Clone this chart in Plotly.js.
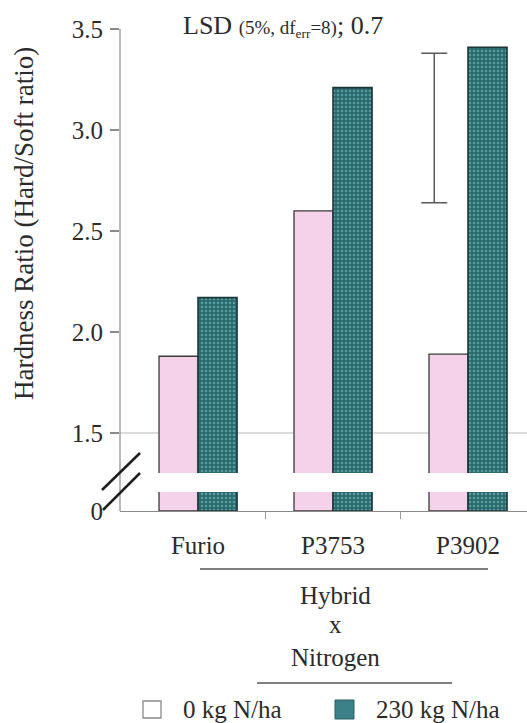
<!DOCTYPE html>
<html>
<head>
<meta charset="utf-8">
<script src="https://cdn.plot.ly/plotly-3.0.1.min.js"></script>
<style>html,body{margin:0;padding:0;background:#fff;}#chart{width:527px;height:723px;}</style>
</head>
<body>
<div id="chart"></div>
<script>
// ---- data ----
var hybrids = ['Furio', 'P3753', 'P3902'];
var n0Values = [1.88, 2.60, 1.89];     // 0 kg N/ha
var n230Values = [2.17, 3.21, 3.41];   // 230 kg N/ha
var seriesNames = ['0 kg N/ha', '230 kg N/ha'];
var yTickVals = [1.5, 2.0, 2.5, 3.0, 3.5];
var yTickText = ['1.5', '2.0', '2.5', '3.0', '3.5'];
var lsdPos = [1.75];      // position between P3753 and P3902 bars
var lsdLow = [2.64];
var lsdHigh = [3.38];
var lsdLabel = 'LSD <span style="font-size:19px">(5%, df<sub>err</sub>=8)</span>; 0.7';
var xTitleLines = ['Hybrid', 'x', 'Nitrogen'];
var yTitle = 'Hardness Ratio (Hard/Soft ratio)';

// ---- styles ----
var serif = 'Liberation Serif';
var txt = '#2b2b2b';
var pink = '#f6d1ea';
var tealBg = '#2b6b6e';
var tealFg = '#5a9ca4';
var xRange = [-0.578, 2.437];

function pinkTrace(ya) {
  return {type: 'bar', x: hybrids, y: n0Values, name: seriesNames[0], xaxis: 'x', yaxis: ya,
    marker: {color: pink, line: {color: '#3a3a3a', width: 1.3}}, showlegend: false, hoverinfo: 'skip'};
}
function tealTrace(ya) {
  return {type: 'bar', x: hybrids, y: n230Values, name: seriesNames[1], xaxis: 'x', yaxis: ya,
    marker: {color: tealBg, line: {color: '#1b3536', width: 1.6},
      pattern: {shape: '.', bgcolor: tealBg, fgcolor: tealFg, size: 4, solidity: 0.3, fillmode: 'replace'}},
    showlegend: false, hoverinfo: 'skip'};
}

var lsdCenter = lsdPos.map(function(_, i){ return (lsdLow[i] + lsdHigh[i]) / 2; });
var lsdHalf = lsdPos.map(function(_, i){ return (lsdHigh[i] - lsdLow[i]) / 2; });

var traces = [
  pinkTrace('y'), tealTrace('y'),
  pinkTrace('y2'), tealTrace('y2'),
  {type: 'scatter', mode: 'markers', x: lsdPos, y: lsdCenter, xaxis: 'x2', yaxis: 'y',
   marker: {size: 1, color: 'rgba(0,0,0,0)'},
   error_y: {type: 'data', array: lsdHalf, symmetric: true, color: '#5a5a5a', thickness: 1.5, width: 13},
   showlegend: false, hoverinfo: 'skip'}
];

// helper conversions (plot area: x 120..527, y 29..511)
function px(p){ return (p - 120) / 407; }
function py(p){ return (511 - p) / 482; }

var shapes = [
  {type: 'line', xref: 'paper', yref: 'y', x0: 0, x1: 1, y0: 1.5, y1: 1.5, line: {color: '#b8b8b8', width: 1}, layer: 'below'},
  {type: 'line', xref: 'paper', yref: 'paper', x0: 0, x1: 0, y0: 0, y1: 1, line: {color: '#8a8a8a', width: 1.2}},
  {type: 'line', xref: 'paper', yref: 'paper', x0: px(102), y0: py(490), x1: px(140), y1: py(453), line: {color: '#1e1e1e', width: 2.5}},
  {type: 'line', xref: 'paper', yref: 'paper', x0: px(103), y0: py(510), x1: px(140), y1: py(473), line: {color: '#1e1e1e', width: 2.5}},
  {type: 'line', xref: 'paper', yref: 'paper', x0: px(200), x1: px(488), y0: py(569), y1: py(569), line: {color: '#555', width: 1.4}},
  {type: 'line', xref: 'paper', yref: 'paper', x0: px(257), x1: px(452), y0: py(683), y1: py(683), line: {color: '#555', width: 1.4}},
  {type: 'rect', xref: 'paper', yref: 'paper', x0: px(143), x1: px(161), y0: py(718), y1: py(701), fillcolor: '#ffffff', line: {color: '#8a8a8a', width: 1.3}},
  {type: 'rect', xref: 'paper', yref: 'paper', x0: px(335), x1: px(354), y0: py(719), y1: py(700), fillcolor: '#3c8088', line: {color: '#2c5f64', width: 1}}
];

var annotations = [
  {xref: 'paper', yref: 'paper', x: px(283), y: py(26), text: lsdLabel, showarrow: false, xanchor: 'center', yanchor: 'middle',
   font: {family: serif, size: 26, color: txt}},
  {xref: 'paper', yref: 'paper', x: px(24), y: py(224), text: yTitle, textangle: -90, showarrow: false, xanchor: 'center', yanchor: 'middle',
   font: {family: serif, size: 27, color: txt}},
  {xref: 'paper', yref: 'paper', x: px(335), y: py(595), text: xTitleLines[0], showarrow: false, xanchor: 'center', yanchor: 'middle',
   font: {family: serif, size: 25, color: txt}},
  {xref: 'paper', yref: 'paper', x: px(335), y: py(624), text: xTitleLines[1], showarrow: false, xanchor: 'center', yanchor: 'middle',
   font: {family: serif, size: 25, color: txt}},
  {xref: 'paper', yref: 'paper', x: px(335), y: py(657), text: xTitleLines[2], showarrow: false, xanchor: 'center', yanchor: 'middle',
   font: {family: serif, size: 25, color: txt}},
  {xref: 'paper', yref: 'paper', x: px(181), y: py(710), text: seriesNames[0], showarrow: false, xanchor: 'left', yanchor: 'middle',
   font: {family: serif, size: 25, color: txt}},
  {xref: 'paper', yref: 'paper', x: px(374), y: py(710), text: seriesNames[1], showarrow: false, xanchor: 'left', yanchor: 'middle',
   font: {family: serif, size: 25, color: txt}}
];

var layout = {
  width: 527, height: 723,
  margin: {l: 120, r: 0, t: 29, b: 212, pad: 0},
  paper_bgcolor: '#ffffff', plot_bgcolor: '#ffffff',
  font: {family: serif, color: txt},
  barmode: 'group', bargap: 0.422, bargroupgap: 0,
  showlegend: false,
  xaxis: {type: 'category', categoryorder: 'array', categoryarray: hybrids, range: xRange, anchor: 'y2',
    showline: true, linecolor: '#8a8a8a', linewidth: 1.2, ticks: '', showgrid: false, zeroline: false,
    tickfont: {family: serif, size: 25, color: txt}, ticklabelstandoff: 12},
  xaxis2: {overlaying: 'x', anchor: 'y2', range: xRange, tickvals: [0.5, 1.5], ticks: 'outside', ticklen: 7,
    tickcolor: '#999', tickwidth: 1, showticklabels: false, showline: false, showgrid: false, zeroline: false},
  yaxis: {domain: [py(473), 1], range: [1.302, 3.5], anchor: 'x', tickvals: yTickVals, ticktext: yTickText,
    ticks: 'outside', ticklen: 9, tickcolor: '#8a8a8a', tickwidth: 1.2, showline: false, showgrid: false, zeroline: false,
    tickfont: {family: serif, size: 25, color: txt}, ticklabelstandoff: 2},
  yaxis2: {domain: [0, py(492)], range: [0, 0.094], anchor: 'x', tickvals: [0], ticktext: ['0'],
    ticks: '', showline: false, showgrid: false, zeroline: false,
    tickfont: {family: serif, size: 25, color: txt}, ticklabelstandoff: 16},
  shapes: shapes,
  annotations: annotations
};

Plotly.newPlot('chart', traces, layout, {displayModeBar: false, staticPlot: true});
</script>
</body>
</html>
